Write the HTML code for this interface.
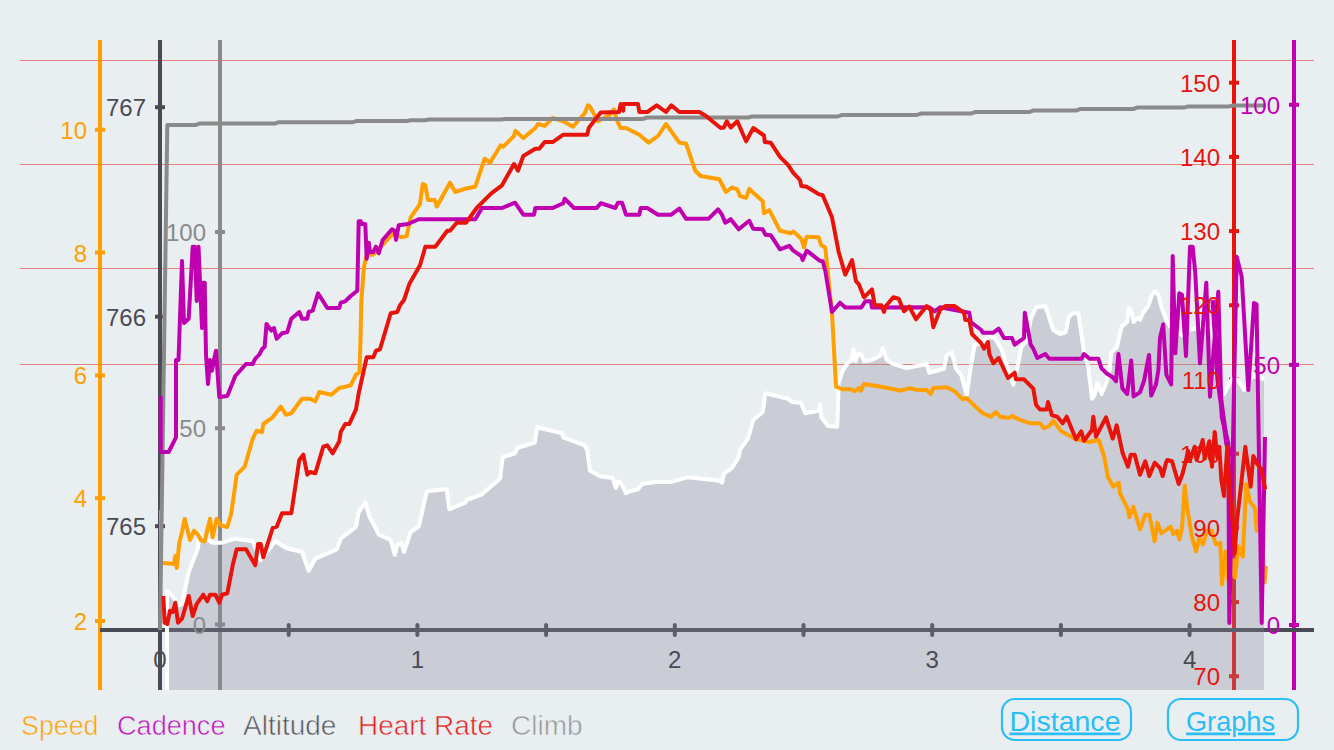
<!DOCTYPE html>
<html><head><meta charset="utf-8"><style>
html,body{margin:0;padding:0;background:#E9EEF1;width:1334px;height:750px;overflow:hidden}
svg{display:block}
</style></head><body>
<svg width="1334" height="750" viewBox="0 0 1334 750">
<line x1="20" y1="60.5" x2="1314" y2="60.5" stroke="#E8807A" stroke-width="1"/>
<line x1="20" y1="164.5" x2="1314" y2="164.5" stroke="#E8807A" stroke-width="1"/>
<line x1="20" y1="268.5" x2="1314" y2="268.5" stroke="#E8807A" stroke-width="1"/>
<line x1="20" y1="364.5" x2="1314" y2="364.5" stroke="#E8807A" stroke-width="1"/>
<line x1="100" y1="40" x2="100" y2="690" stroke="#FFA000" stroke-width="4"/>
<line x1="160" y1="40" x2="160" y2="690" stroke="#4A4A55" stroke-width="4"/>
<line x1="220" y1="40" x2="220" y2="690" stroke="#8A8A8A" stroke-width="4"/>
<line x1="1234" y1="40" x2="1234" y2="690" stroke="#E8140C" stroke-width="4"/>
<line x1="1294" y1="40" x2="1294" y2="690" stroke="#C000B0" stroke-width="4"/>
<line x1="100" y1="630" x2="1314" y2="630" stroke="#4A4A55" stroke-width="4"/>
<line x1="95" y1="129.7" x2="105" y2="129.7" stroke="#FFA000" stroke-width="4"/>
<line x1="95" y1="252.52999999999997" x2="105" y2="252.52999999999997" stroke="#FFA000" stroke-width="4"/>
<line x1="95" y1="375.36" x2="105" y2="375.36" stroke="#FFA000" stroke-width="4"/>
<line x1="95" y1="498.19" x2="105" y2="498.19" stroke="#FFA000" stroke-width="4"/>
<line x1="95" y1="621.02" x2="105" y2="621.02" stroke="#FFA000" stroke-width="4"/>
<line x1="155" y1="107.2" x2="165" y2="107.2" stroke="#4A4A55" stroke-width="4"/>
<line x1="155" y1="316.7" x2="165" y2="316.7" stroke="#4A4A55" stroke-width="4"/>
<line x1="155" y1="526.2" x2="165" y2="526.2" stroke="#4A4A55" stroke-width="4"/>
<line x1="215" y1="232.0" x2="225" y2="232.0" stroke="#8A8A8A" stroke-width="4"/>
<line x1="215" y1="428.25" x2="225" y2="428.25" stroke="#8A8A8A" stroke-width="4"/>
<line x1="215" y1="624.5" x2="225" y2="624.5" stroke="#8A8A8A" stroke-width="4"/>
<line x1="1229" y1="82.7" x2="1239" y2="82.7" stroke="#E8140C" stroke-width="4"/>
<line x1="1229" y1="156.9" x2="1239" y2="156.9" stroke="#E8140C" stroke-width="4"/>
<line x1="1229" y1="231.10000000000002" x2="1239" y2="231.10000000000002" stroke="#E8140C" stroke-width="4"/>
<line x1="1229" y1="305.3" x2="1239" y2="305.3" stroke="#E8140C" stroke-width="4"/>
<line x1="1229" y1="379.5" x2="1239" y2="379.5" stroke="#E8140C" stroke-width="4"/>
<line x1="1229" y1="453.7" x2="1239" y2="453.7" stroke="#E8140C" stroke-width="4"/>
<line x1="1229" y1="527.9000000000001" x2="1239" y2="527.9000000000001" stroke="#E8140C" stroke-width="4"/>
<line x1="1229" y1="602.1" x2="1239" y2="602.1" stroke="#E8140C" stroke-width="4"/>
<line x1="1229" y1="676.3000000000001" x2="1239" y2="676.3000000000001" stroke="#E8140C" stroke-width="4"/>
<line x1="1289" y1="104.8" x2="1299" y2="104.8" stroke="#C000B0" stroke-width="4"/>
<line x1="1289" y1="364.90000000000003" x2="1299" y2="364.90000000000003" stroke="#C000B0" stroke-width="4"/>
<line x1="1289" y1="625.0" x2="1299" y2="625.0" stroke="#C000B0" stroke-width="4"/>
<line x1="288.7" y1="625" x2="288.7" y2="635" stroke="#4A4A55" stroke-width="4" stroke-linecap="round"/>
<line x1="417.4" y1="625" x2="417.4" y2="635" stroke="#4A4A55" stroke-width="4" stroke-linecap="round"/>
<line x1="546.1" y1="625" x2="546.1" y2="635" stroke="#4A4A55" stroke-width="4" stroke-linecap="round"/>
<line x1="674.8" y1="625" x2="674.8" y2="635" stroke="#4A4A55" stroke-width="4" stroke-linecap="round"/>
<line x1="803.5" y1="625" x2="803.5" y2="635" stroke="#4A4A55" stroke-width="4" stroke-linecap="round"/>
<line x1="932.2" y1="625" x2="932.2" y2="635" stroke="#4A4A55" stroke-width="4" stroke-linecap="round"/>
<line x1="1060.9" y1="625" x2="1060.9" y2="635" stroke="#4A4A55" stroke-width="4" stroke-linecap="round"/>
<line x1="1189.6" y1="625" x2="1189.6" y2="635" stroke="#4A4A55" stroke-width="4" stroke-linecap="round"/>
<polygon points="167.0,690.0 167.0,590.7 170.0,593.3 179.3,605.3 182.0,604.0 188.7,572.0 198.0,548.0 199.3,533.3 207.3,540.0 212.7,542.7 222.0,542.7 235.3,538.7 252.7,541.3 260.7,560.0 275.3,541.3 286.0,548.0 302.0,552.0 308.7,570.7 315.3,558.7 336.7,549.3 340.7,538.7 356.0,526.7 358.7,512.0 365.3,502.7 369.3,516.0 374.7,526.7 378.7,534.7 390.7,540.0 394.7,554.7 397.3,545.3 401.3,542.7 404.0,552.0 408.0,540.0 410.7,532.0 418.7,526.7 426.7,492.0 430.7,490.7 446.7,489.3 449.3,509.3 465.3,502.7 466.7,500.0 481.3,494.7 500.0,478.7 502.7,457.3 514.7,453.3 517.3,448.0 534.7,442.7 537.3,426.7 538.0,427.5 562.0,433.3 563.3,437.3 584.7,445.3 587.3,450.7 590.0,470.7 600.7,476.5 612.7,478.1 615.9,488.0 618.0,481.3 620.7,482.7 626.0,493.3 628.7,491.5 638.0,489.3 642.0,484.0 655.3,481.9 671.3,481.9 687.3,477.3 695.3,478.1 719.3,480.8 722.0,482.7 724.1,473.3 732.0,468.0 738.7,457.3 740.0,449.9 748.0,438.7 753.3,420.0 762.7,412.0 765.3,393.3 788.0,398.7 792.0,401.9 800.8,402.7 805.3,413.3 818.7,410.7 820.0,404.0 821.3,417.3 828.0,425.9 837.3,426.7 838.7,382.7 842.7,370.7 848.0,362.7 852.0,360.0 853.3,349.3 855.5,361.3 858.7,353.3 861.3,354.7 864.0,361.3 872.0,360.0 880.0,356.0 882.7,348.0 886.7,360.0 893.3,364.0 906.7,368.0 926.7,364.1 929.3,372.7 944.0,368.7 946.7,355.3 952.0,352.7 956.0,368.7 961.3,375.3 966.7,395.3 970.7,367.3 974.7,344.7 981.3,343.3 989.3,336.7 994.7,338.0 1001.3,348.7 1008.0,368.7 1013.3,384.7 1017.3,368.7 1021.3,347.3 1026.7,340.7 1030.7,319.3 1036.0,307.3 1045.3,306.0 1048.0,314.0 1053.3,330.0 1060.0,334.0 1065.6,332.4 1068.8,317.2 1072.8,313.2 1078.4,313.2 1080.8,330.0 1084.0,352.4 1088.0,365.2 1092.0,398.8 1094.4,395.6 1097.6,382.8 1101.6,394.0 1106.4,382.8 1109.6,370.0 1111.2,352.4 1116.8,347.6 1121.6,326.8 1127.2,322.0 1128.8,307.6 1131.2,310.8 1133.6,322.0 1136.8,318.0 1140.0,319.6 1143.2,312.4 1148.0,306.8 1152.0,294.8 1155.2,291.6 1158.4,294.8 1161.6,307.6 1166.4,320.4 1170.4,326.8 1183.0,336.0 1188.0,330.0 1208.0,326.0 1212.0,330.0 1224.0,394.0 1232.0,379.0 1238.0,380.0 1244.0,390.0 1252.0,376.0 1262.0,378.0 1264.0,380.0 1264.0,690.0 1264.0,690.0 167.0,690.0" fill="rgba(138,138,156,0.32)" stroke="none"/>
<polyline points="167.0,690.0 167.0,590.7 170.0,593.3 179.3,605.3 182.0,604.0 188.7,572.0 198.0,548.0 199.3,533.3 207.3,540.0 212.7,542.7 222.0,542.7 235.3,538.7 252.7,541.3 260.7,560.0 275.3,541.3 286.0,548.0 302.0,552.0 308.7,570.7 315.3,558.7 336.7,549.3 340.7,538.7 356.0,526.7 358.7,512.0 365.3,502.7 369.3,516.0 374.7,526.7 378.7,534.7 390.7,540.0 394.7,554.7 397.3,545.3 401.3,542.7 404.0,552.0 408.0,540.0 410.7,532.0 418.7,526.7 426.7,492.0 430.7,490.7 446.7,489.3 449.3,509.3 465.3,502.7 466.7,500.0 481.3,494.7 500.0,478.7 502.7,457.3 514.7,453.3 517.3,448.0 534.7,442.7 537.3,426.7 538.0,427.5 562.0,433.3 563.3,437.3 584.7,445.3 587.3,450.7 590.0,470.7 600.7,476.5 612.7,478.1 615.9,488.0 618.0,481.3 620.7,482.7 626.0,493.3 628.7,491.5 638.0,489.3 642.0,484.0 655.3,481.9 671.3,481.9 687.3,477.3 695.3,478.1 719.3,480.8 722.0,482.7 724.1,473.3 732.0,468.0 738.7,457.3 740.0,449.9 748.0,438.7 753.3,420.0 762.7,412.0 765.3,393.3 788.0,398.7 792.0,401.9 800.8,402.7 805.3,413.3 818.7,410.7 820.0,404.0 821.3,417.3 828.0,425.9 837.3,426.7 838.7,382.7 842.7,370.7 848.0,362.7 852.0,360.0 853.3,349.3 855.5,361.3 858.7,353.3 861.3,354.7 864.0,361.3 872.0,360.0 880.0,356.0 882.7,348.0 886.7,360.0 893.3,364.0 906.7,368.0 926.7,364.1 929.3,372.7 944.0,368.7 946.7,355.3 952.0,352.7 956.0,368.7 961.3,375.3 966.7,395.3 970.7,367.3 974.7,344.7 981.3,343.3 989.3,336.7 994.7,338.0 1001.3,348.7 1008.0,368.7 1013.3,384.7 1017.3,368.7 1021.3,347.3 1026.7,340.7 1030.7,319.3 1036.0,307.3 1045.3,306.0 1048.0,314.0 1053.3,330.0 1060.0,334.0 1065.6,332.4 1068.8,317.2 1072.8,313.2 1078.4,313.2 1080.8,330.0 1084.0,352.4 1088.0,365.2 1092.0,398.8 1094.4,395.6 1097.6,382.8 1101.6,394.0 1106.4,382.8 1109.6,370.0 1111.2,352.4 1116.8,347.6 1121.6,326.8 1127.2,322.0 1128.8,307.6 1131.2,310.8 1133.6,322.0 1136.8,318.0 1140.0,319.6 1143.2,312.4 1148.0,306.8 1152.0,294.8 1155.2,291.6 1158.4,294.8 1161.6,307.6 1166.4,320.4 1170.4,326.8 1183.0,336.0 1188.0,330.0 1208.0,326.0 1212.0,330.0 1224.0,394.0 1232.0,379.0 1238.0,380.0 1244.0,390.0 1252.0,376.0 1262.0,378.0 1264.0,380.0" fill="none" stroke="#FFFFFF" stroke-width="4" stroke-linejoin="round"/>
<polyline points="161.0,510.0 161.0,563.0 163.5,563.0 174.0,564.0 175.3,556.0 176.7,568.0 179.3,542.7 182.0,532.0 184.7,519.0 190.0,540.0 194.0,530.7 198.0,534.7 200.7,540.0 204.7,541.3 210.0,518.7 212.7,537.3 216.7,518.7 220.7,525.3 227.3,527.0 231.3,513.3 236.7,474.7 244.7,466.7 252.7,438.7 256.7,430.7 262.0,432.0 263.3,424.0 272.7,417.3 280.7,406.7 286.0,414.7 291.3,413.3 302.0,398.7 310.0,398.7 315.3,401.3 319.3,392.0 331.3,394.7 339.3,388.0 345.3,386.7 350.7,385.3 356.0,374.7 359.5,372.0 360.5,340.0 361.3,301.3 364.0,266.7 366.7,254.7 373.3,254.7 393.3,233.3 401.3,237.3 406.7,236.0 410.7,217.3 420.0,204.0 422.7,184.0 425.3,185.3 428.0,200.0 434.7,200.0 436.7,206.7 450.0,182.7 455.3,192.0 464.7,188.8 475.3,186.7 484.7,158.7 490.0,162.7 500.7,145.3 503.3,146.7 514.0,136.0 515.3,130.7 523.3,138.1 535.3,128.0 538.0,124.0 544.7,125.9 552.7,117.9 563.3,121.3 573.0,126.7 584.7,113.3 587.9,105.3 590.0,106.7 598.0,121.3 610.0,114.7 614.0,109.3 616.7,120.0 620.7,128.0 626.0,128.0 639.3,134.7 648.7,142.7 658.0,136.0 666.0,124.0 679.3,142.7 686.0,143.5 695.3,170.7 700.7,176.0 719.3,179.2 726.0,192.0 732.0,187.5 737.3,189.3 740.0,196.0 746.1,197.9 749.3,188.8 754.7,194.1 762.7,201.3 764.0,213.3 769.3,210.1 780.0,230.7 790.7,233.3 793.3,231.5 801.3,238.7 804.0,247.5 806.7,236.8 818.7,237.3 821.3,245.3 825.3,247.5 832.0,313.3 836.0,386.7 842.7,389.3 850.7,389.3 854.7,391.2 858.7,388.0 860.8,390.7 864.0,384.0 881.3,386.7 901.3,390.7 909.3,388.1 917.3,390.0 926.7,390.0 930.7,394.0 933.3,388.1 946.7,387.3 954.7,391.3 962.7,399.3 966.7,398.0 973.3,404.7 982.7,413.2 990.7,416.7 996.0,412.1 1000.0,416.7 1009.3,418.0 1012.0,415.9 1018.7,419.3 1030.7,423.3 1040.0,423.3 1044.0,428.1 1049.3,426.0 1053.3,420.7 1061.3,431.3 1076.0,439.3 1089.3,442.0 1098.7,440.0 1104.0,456.0 1108.0,477.3 1113.3,486.7 1118.7,482.7 1120.0,493.3 1128.0,509.3 1129.3,517.3 1133.3,506.7 1140.0,529.3 1145.3,514.7 1149.3,514.7 1154.7,541.3 1157.3,522.7 1161.3,533.3 1170.7,526.7 1173.5,534.1 1176.9,530.7 1179.5,539.3 1182.1,527.2 1184.7,485.6 1187.3,508.1 1191.7,535.9 1196.0,551.5 1199.5,537.6 1202.9,544.5 1207.3,530.7 1211.6,530.7 1215.9,544.5 1220.3,542.8 1222.0,584.4 1225.5,551.5 1229.0,585.0 1233.3,560.1 1235.0,577.5 1238.5,546.3 1242.8,556.7 1246.3,483.9 1249.7,501.2 1254.9,508.1 1256.7,530.7 1259.0,512.0 1262.0,540.0 1264.5,582.6 1266.0,566.0" fill="none" stroke="#FFA000" stroke-width="4" stroke-linejoin="round" stroke-linecap="butt"/>
<polyline points="160.0,630.0 167.3,125.1 195.5,125.1 199.5,123.5 275.0,123.5 279.0,122.2 353.0,122.2 357.0,120.9 407.0,120.9 411.0,120.3 425.0,120.3 429.0,119.5 501.0,119.5 505.0,118.9 643.0,118.9 647.0,117.5 748.0,117.5 752.0,116.5 838.0,116.5 842.0,114.9 917.0,114.9 921.0,113.6 971.0,113.6 975.0,112.1 1029.0,112.1 1033.0,110.6 1076.0,110.6 1080.0,109.1 1133.0,109.1 1137.0,107.6 1184.0,107.6 1188.0,106.4 1229.0,106.4 1233.0,105.5 1266.0,105.5" fill="none" stroke="#8A8A8A" stroke-width="4" stroke-linejoin="round" stroke-linecap="butt"/>
<polyline points="160.7,396.0 160.7,452.0 168.7,452.0 176.0,437.3 176.0,360.0 178.5,360.0 182.0,261.0 184.0,323.0 188.7,318.7 192.7,246.7 194.8,246.7 196.7,301.0 198.5,246.7 202.0,328.0 203.3,282.7 204.7,282.7 206.0,354.7 208.0,384.0 210.0,360.0 211.9,370.7 214.0,360.0 216.0,350.7 219.3,397.0 227.3,396.0 235.3,376.0 246.0,364.0 252.7,364.0 255.3,358.7 259.3,354.7 262.0,349.3 264.7,346.7 266.5,324.0 271.3,330.7 274.0,328.0 276.7,338.7 282.0,333.3 287.3,332.0 291.3,318.7 299.3,312.0 302.0,318.7 307.3,318.7 308.7,312.0 312.7,310.7 318.0,293.3 327.3,308.0 339.3,308.0 340.7,302.7 345.3,301.3 350.7,296.0 357.3,290.7 358.7,221.3 360.8,221.3 361.9,224.0 365.3,224.0 366.7,258.7 368.8,242.7 369.9,252.0 373.3,252.0 376.0,246.7 378.7,253.3 382.7,240.0 392.0,229.3 394.7,230.7 396.0,240.0 398.7,225.3 408.0,224.0 418.7,219.2 475.3,219.2 482.0,208.0 502.0,208.0 515.0,202.7 523.3,214.7 534.0,214.7 535.3,208.0 552.7,208.0 563.3,203.2 564.7,198.7 574.0,208.0 596.7,208.0 600.7,203.2 615.3,208.0 618.0,202.7 622.0,202.7 626.0,214.7 639.3,214.7 640.7,208.0 647.3,208.0 658.0,214.7 671.3,214.7 679.3,208.5 686.0,218.7 708.7,218.7 718.0,209.3 722.0,214.7 725.3,222.7 730.7,219.2 738.7,229.3 749.3,220.8 753.3,228.8 762.7,229.3 765.3,234.7 770.7,235.2 780.0,249.3 789.3,245.9 793.3,250.7 801.3,256.0 802.7,260.0 806.7,250.7 820.0,260.8 822.7,261.3 825.3,270.7 832.0,312.0 840.0,302.7 845.3,307.5 861.3,307.5 865.3,301.3 870.7,301.3 872.0,307.5 929.3,307.3 934.7,311.3 940.0,307.3 969.3,312.7 970.7,322.0 981.3,330.0 982.7,332.7 993.3,332.7 998.7,328.7 1004.0,338.0 1012.0,338.0 1014.7,344.7 1024.0,338.0 1024.8,312.7 1030.7,344.7 1033.3,348.7 1037.3,358.0 1045.3,354.0 1049.3,358.8 1081.6,358.8 1084.0,354.0 1089.6,358.8 1098.4,358.8 1101.6,368.4 1106.4,373.2 1112.8,377.2 1116.0,381.2 1118.4,354.0 1122.4,388.4 1127.2,394.0 1131.2,360.4 1133.6,396.4 1140.0,392.4 1144.0,381.0 1149.0,355.0 1151.2,395.6 1156.0,384.4 1158.4,370.0 1160.0,338.0 1163.2,324.4 1166.4,374.8 1171.2,384.4 1172.7,256.0 1175.3,353.3 1179.3,293.3 1182.0,294.7 1186.0,356.0 1190.0,246.7 1192.7,246.7 1195.3,273.3 1200.0,363.3 1206.3,282.7 1210.0,396.7 1218.3,291.7 1221.7,416.7 1228.3,443.3 1229.3,623.0 1236.7,256.7 1241.7,276.7 1248.3,390.0 1254.0,303.0 1256.5,304.0 1261.7,623.0 1265.0,437.0" fill="none" stroke="#C000B0" stroke-width="4" stroke-linejoin="round" stroke-linecap="butt"/>
<polyline points="1213.0,300.0 1218.0,380.0 1227.0,445.0 1231.0,456.0" fill="none" stroke="#C000B0" stroke-width="5" stroke-linejoin="round" stroke-linecap="butt"/>
<polyline points="163.3,596.0 164.7,622.7 167.3,624.0 170.0,610.7 172.7,612.0 175.3,602.7 178.0,622.7 182.0,618.7 188.7,596.0 192.7,616.0 196.7,604.0 203.3,594.7 207.3,601.3 210.0,594.7 215.3,594.7 219.3,602.7 222.0,594.7 227.3,593.3 232.7,565.3 236.7,549.3 246.0,549.3 255.3,565.3 258.0,544.0 260.7,544.0 263.3,557.3 272.7,528.0 276.7,526.7 282.0,513.3 291.3,513.3 299.3,460.0 303.3,454.7 307.3,474.7 310.0,472.0 315.3,473.3 323.3,446.7 327.3,445.3 332.7,453.3 339.3,441.3 340.7,432.0 345.3,424.0 349.3,424.0 356.0,409.3 358.7,393.3 366.7,357.3 373.3,357.3 376.0,350.7 380.0,349.3 390.7,313.3 397.3,312.0 400.0,305.3 404.0,300.0 408.0,288.0 409.3,284.0 420.0,265.3 422.7,256.0 425.3,246.7 435.3,246.7 447.3,230.7 450.0,230.7 456.7,222.7 466.0,222.7 476.7,208.0 483.3,201.3 491.3,193.3 502.0,185.3 514.0,164.0 518.0,170.7 523.3,156.0 535.3,148.8 539.3,148.8 544.7,142.1 552.7,142.1 563.3,134.7 587.3,134.7 588.7,128.0 600.7,112.5 619.0,112.0 620.7,104.0 623.3,110.7 623.3,104.0 638.0,104.0 639.3,112.0 647.3,112.0 656.7,105.3 666.0,112.0 671.3,105.3 679.3,112.0 699.3,112.0 706.0,116.0 720.7,128.0 724.0,127.5 726.7,121.3 730.7,127.5 737.3,121.3 746.1,141.3 753.3,128.0 764.0,135.5 764.8,141.9 770.7,142.7 780.0,156.8 788.0,164.8 793.3,172.8 800.0,180.0 801.3,186.1 806.7,186.7 818.7,194.1 822.7,195.2 832.0,217.3 838.7,252.0 845.3,274.7 852.0,260.0 856.0,281.3 858.7,284.0 864.0,297.3 872.0,289.3 874.7,305.3 881.3,305.3 884.0,312.0 885.3,306.7 893.3,297.3 898.7,298.7 904.0,311.3 909.3,306.5 916.0,319.3 926.7,306.0 930.7,310.0 933.3,327.3 940.0,310.0 945.3,306.0 954.7,306.0 964.0,312.7 965.3,319.9 969.3,319.9 972.0,334.0 981.3,343.3 984.0,348.7 988.0,342.0 989.3,354.0 993.3,363.3 998.7,358.0 1008.0,378.0 1014.7,372.7 1016.0,379.3 1024.0,379.3 1033.3,388.7 1036.0,404.7 1040.0,409.5 1046.7,409.5 1048.0,402.0 1052.0,415.3 1057.3,416.7 1062.7,423.3 1066.7,416.7 1076.0,439.3 1081.3,431.3 1084.0,440.7 1092.0,430.0 1093.3,416.7 1096.0,436.7 1106.0,417.3 1112.7,438.7 1116.7,425.3 1122.7,453.3 1128.0,466.7 1130.7,454.7 1134.7,454.7 1140.0,474.7 1145.3,461.3 1149.3,476.0 1154.7,462.7 1160.0,468.0 1162.7,476.0 1166.0,462.7 1167.3,460.0 1172.0,461.3 1178.7,484.0 1182.7,473.3 1184.7,465.3 1186.7,457.3 1188.0,450.7 1190.0,460.0 1194.7,446.7 1196.7,460.0 1202.7,440.0 1204.7,458.7 1209.3,441.3 1212.0,466.7 1214.7,432.0 1217.3,457.3 1219.3,446.7 1221.3,480.0 1224.0,496.0 1227.3,446.7 1229.3,486.7 1233.3,529.3 1234.7,553.3 1237.0,520.0 1240.0,494.7 1245.3,446.7 1250.7,486.7 1253.3,456.0 1257.3,464.0 1261.3,469.3 1265.3,489.3" fill="none" stroke="#E8140C" stroke-width="4" stroke-linejoin="round" stroke-linecap="butt"/>
<text x="87" y="138.7" font-family="Liberation Sans, sans-serif" font-size="24" fill="#FFA000" text-anchor="end">10</text>
<text x="87" y="261.5" font-family="Liberation Sans, sans-serif" font-size="24" fill="#FFA000" text-anchor="end">8</text>
<text x="87" y="384.4" font-family="Liberation Sans, sans-serif" font-size="24" fill="#FFA000" text-anchor="end">6</text>
<text x="87" y="507.2" font-family="Liberation Sans, sans-serif" font-size="24" fill="#FFA000" text-anchor="end">4</text>
<text x="87" y="630.0" font-family="Liberation Sans, sans-serif" font-size="24" fill="#FFA000" text-anchor="end">2</text>
<text x="146" y="116.2" font-family="Liberation Sans, sans-serif" font-size="24" fill="#4A4A55" text-anchor="end">767</text>
<text x="146" y="325.7" font-family="Liberation Sans, sans-serif" font-size="24" fill="#4A4A55" text-anchor="end">766</text>
<text x="146" y="535.2" font-family="Liberation Sans, sans-serif" font-size="24" fill="#4A4A55" text-anchor="end">765</text>
<text x="206" y="241.0" font-family="Liberation Sans, sans-serif" font-size="24" fill="#8A8A8A" text-anchor="end">100</text>
<text x="206" y="437.2" font-family="Liberation Sans, sans-serif" font-size="24" fill="#8A8A8A" text-anchor="end">50</text>
<text x="206" y="633.5" font-family="Liberation Sans, sans-serif" font-size="24" fill="#8A8A8A" text-anchor="end">0</text>
<text x="1220" y="91.7" font-family="Liberation Sans, sans-serif" font-size="24" fill="#E8140C" text-anchor="end">150</text>
<text x="1220" y="165.9" font-family="Liberation Sans, sans-serif" font-size="24" fill="#E8140C" text-anchor="end">140</text>
<text x="1220" y="240.1" font-family="Liberation Sans, sans-serif" font-size="24" fill="#E8140C" text-anchor="end">130</text>
<text x="1220" y="314.3" font-family="Liberation Sans, sans-serif" font-size="24" fill="#E8140C" text-anchor="end">120</text>
<text x="1220" y="388.5" font-family="Liberation Sans, sans-serif" font-size="24" fill="#E8140C" text-anchor="end">110</text>
<text x="1220" y="462.7" font-family="Liberation Sans, sans-serif" font-size="24" fill="#E8140C" text-anchor="end">100</text>
<text x="1220" y="536.9" font-family="Liberation Sans, sans-serif" font-size="24" fill="#E8140C" text-anchor="end">90</text>
<text x="1220" y="611.1" font-family="Liberation Sans, sans-serif" font-size="24" fill="#E8140C" text-anchor="end">80</text>
<text x="1220" y="685.3" font-family="Liberation Sans, sans-serif" font-size="24" fill="#E8140C" text-anchor="end">70</text>
<text x="1280" y="113.8" font-family="Liberation Sans, sans-serif" font-size="24" fill="#C000B0" text-anchor="end">100</text>
<text x="1280" y="373.9" font-family="Liberation Sans, sans-serif" font-size="24" fill="#C000B0" text-anchor="end">50</text>
<text x="1280" y="634.0" font-family="Liberation Sans, sans-serif" font-size="24" fill="#C000B0" text-anchor="end">0</text>
<text x="160.0" y="667.8" font-family="Liberation Sans, sans-serif" font-size="24" fill="#4A4A55" text-anchor="middle">0</text>
<text x="417.4" y="667.8" font-family="Liberation Sans, sans-serif" font-size="24" fill="#4A4A55" text-anchor="middle">1</text>
<text x="674.8" y="667.8" font-family="Liberation Sans, sans-serif" font-size="24" fill="#4A4A55" text-anchor="middle">2</text>
<text x="932.2" y="667.8" font-family="Liberation Sans, sans-serif" font-size="24" fill="#4A4A55" text-anchor="middle">3</text>
<text x="1189.6" y="667.8" font-family="Liberation Sans, sans-serif" font-size="24" fill="#4A4A55" text-anchor="middle">4</text>
<text x="21" y="735" font-family="Liberation Sans, sans-serif" font-size="28" fill="#FFA000" textLength="77.5" lengthAdjust="spacingAndGlyphs" stroke="#E9EEF1" stroke-width="0.6">Speed</text>
<text x="117" y="735" font-family="Liberation Sans, sans-serif" font-size="28" fill="#C010BE" textLength="108.5" lengthAdjust="spacingAndGlyphs" stroke="#E9EEF1" stroke-width="0.6">Cadence</text>
<text x="243" y="735" font-family="Liberation Sans, sans-serif" font-size="28" fill="#55555C" textLength="93.4" lengthAdjust="spacingAndGlyphs" stroke="#E9EEF1" stroke-width="0.6">Altitude</text>
<text x="358" y="735" font-family="Liberation Sans, sans-serif" font-size="28" fill="#E3201C" textLength="135" lengthAdjust="spacingAndGlyphs" stroke="#E9EEF1" stroke-width="0.6">Heart Rate</text>
<text x="511" y="735" font-family="Liberation Sans, sans-serif" font-size="28" fill="#969698" textLength="71.5" lengthAdjust="spacingAndGlyphs" stroke="#E9EEF1" stroke-width="0.6">Climb</text>
<rect x="1002" y="699" width="129" height="41" rx="13" ry="13" fill="none" stroke="#2BBDF5" stroke-width="2.2"/>
<text x="1009.5" y="730.5" font-family="Liberation Sans, sans-serif" font-size="27.5" fill="#2BBDF5" textLength="111" lengthAdjust="spacingAndGlyphs" text-decoration="underline">Distance</text>
<rect x="1168" y="699" width="130" height="41" rx="13" ry="13" fill="none" stroke="#2BBDF5" stroke-width="2.2"/>
<text x="1186" y="730.5" font-family="Liberation Sans, sans-serif" font-size="27.5" fill="#2BBDF5" textLength="89" lengthAdjust="spacingAndGlyphs" text-decoration="underline">Graphs</text>
</svg>
</body></html>
